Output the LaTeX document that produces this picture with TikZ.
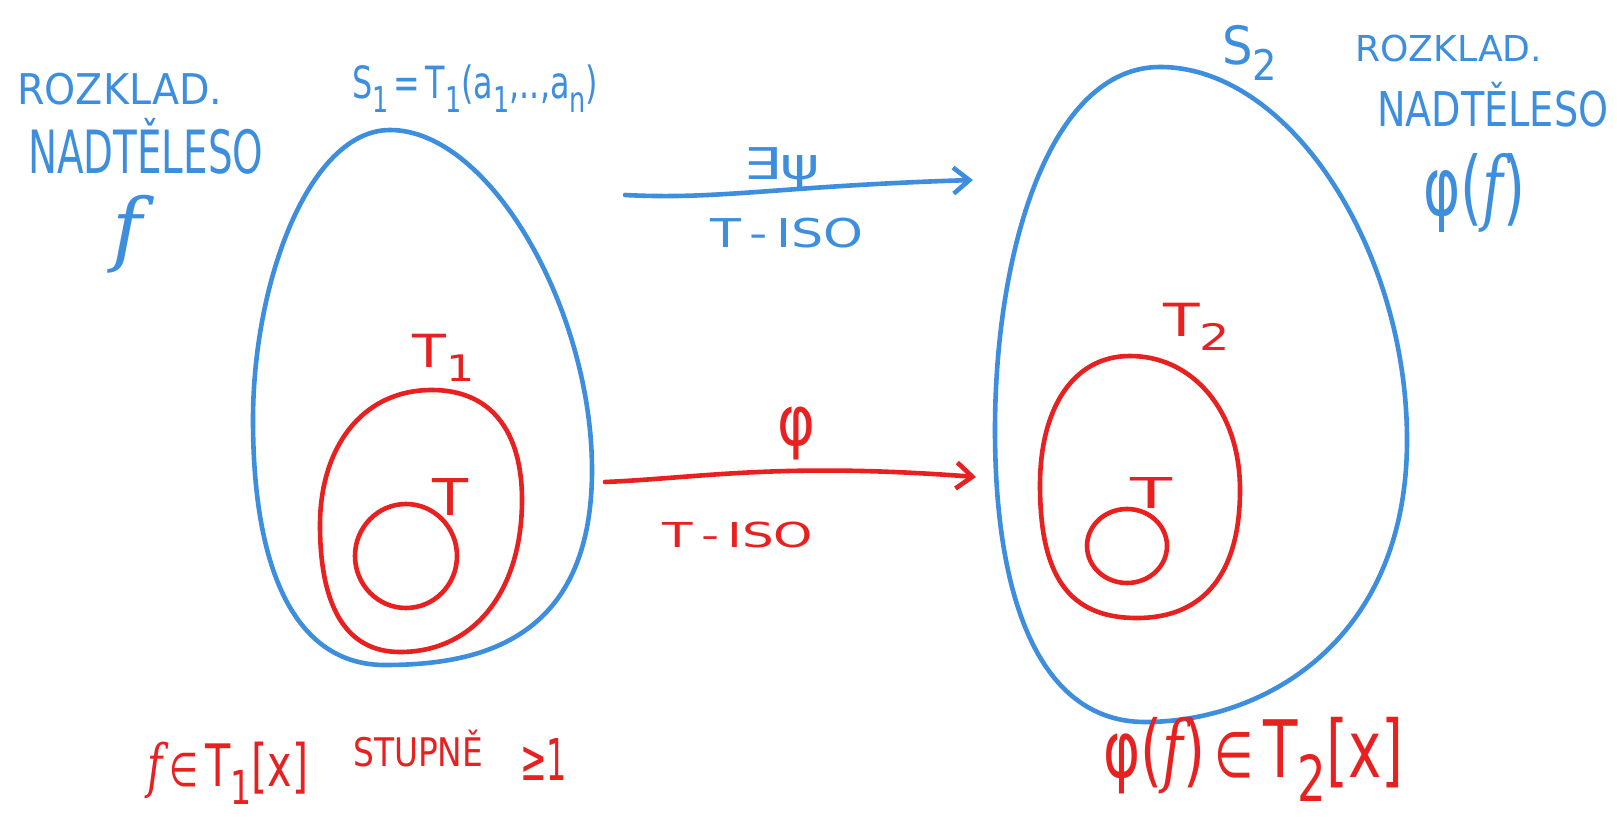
\documentclass[tikz,border=0pt]{standalone}
\usepackage{fontspec}
\usepackage{graphicx}
\setmainfont{DejaVu Sans}
\newfontfamily\fitfont{DejaVu Serif}
\usetikzlibrary{arrows.meta}
\definecolor{hblue}{RGB}{62,142,222}
\definecolor{hred}{RGB}{232,32,32}
\newcommand{\fitbox}[3]{\resizebox*{#1pt}{#2pt}{#3}}
\newcommand{\sub}[1]{\raisebox{-0.3em}{\footnotesize #1}}
\newcommand{\ff}{{\fitfont\itshape f}}
\newcommand{\smin}{{\footnotesize ∈}}
\begin{document}
\begin{tikzpicture}[x=1pt,y=-1pt,
  bstroke/.style={draw=hblue,line width=4.6pt,line cap=round,line join=round},
  rstroke/.style={draw=hred,line width=4.6pt,line cap=round,line join=round},
  btxt/.style={text=hblue,inner sep=0pt,anchor=north west},
  rtxt/.style={text=hred,inner sep=0pt,anchor=north west},
  harrow/.style={-{Straight Barb[length=16pt,width=26pt,line width=4.6pt]}}]
\useasboundingbox[fill=white] (0,0) rectangle (1617,818);
% left egg S1
\draw[bstroke] (390,130) .. controls (310,130) and (253,280) .. (253,420)
  .. controls (253,570) and (295,665) .. (385,665)
  .. controls (480,665) and (592,640) .. (592,470)
  .. controls (592,310) and (490,130) .. cycle;
% left T1
\draw[rstroke] (432,390) .. controls (360,390) and (320,450) .. (320,525)
  .. controls (320,605) and (345,652) .. (400,652)
  .. controls (475,652) and (522,590) .. (522,500)
  .. controls (522,430) and (490,390) .. cycle;
\draw[rstroke] (406,556) ellipse[x radius=51,y radius=52];
% right egg S2
\draw[bstroke] (1160,67) .. controls (1050,67) and (995,250) .. (995,430)
  .. controls (995,610) and (1045,722) .. (1145,722)
  .. controls (1265,722) and (1407,640) .. (1407,440)
  .. controls (1407,250) and (1290,67) .. cycle;
% right T2
\draw[rstroke] (1130,356) .. controls (1072,356) and (1040,410) .. (1040,485)
  .. controls (1040,575) and (1068,618) .. (1137,618)
  .. controls (1205,618) and (1240,572) .. (1240,490)
  .. controls (1240,410) and (1192,356) .. cycle;
\draw[rstroke] (1127,546) ellipse[x radius=40,y radius=37];
% arrows
\coordinate (pA) at (625,195);
\coordinate (pB) at (973,180);
\coordinate (qA) at (605,482);
\coordinate (qB) at (976,477);
\draw[bstroke,harrow] (pA) .. controls (720,200) and (780,186) .. (pB);
\draw[rstroke,harrow] (qA) .. controls (700,478) and (780,462) .. (qB);
% labels
\node[btxt] (exps) at (743,147) {\fitbox{77}{41}{∃ψ}};
\node[btxt] (iso1) at (710,218) {\fitbox{153}{30}{T\,-\,ISO}};
\node[rtxt] (phi) at (777,407) {\fitbox{38}{53}{φ}};
\node[rtxt] (iso2) at (662,522) {\fitbox{151}{26}{T\,-\,ISO}};
\node[btxt] (rozl) at (17,73) {\fitbox{205}{32}{ROZKLAD.}};
\node[btxt] (nadl) at (28,118) {\fitbox{235}{56}{NADTĚLESO}};
\node[btxt] (fl) at (112,195) {\fitbox{30}{78}{\ff}};
\node[btxt] (s1) at (352,65) {\fitbox{246}{47}{S\sub{1}\,=\,T\sub{1}(a\sub{1},..,a\sub{n})}};
\node[btxt] (s2) at (1222,25) {\fitbox{55}{55}{S\sub{2}}};
\node[btxt] (rozr) at (1355,35) {\fitbox{187}{27}{ROZKLAD.}};
\node[btxt] (nadr) at (1377,82) {\fitbox{231}{45}{NADTĚLESO}};
\node[btxt] (phf) at (1423,153) {\fitbox{102}{79}{φ(\ff)}};
\node[rtxt] (t1) at (412,334) {\fitbox{62}{47}{T\sub{1}}};
\node[rtxt] (tl) at (432,478) {\fitbox{36}{37}{T}};
\node[rtxt] (t2) at (1163,303) {\fitbox{67}{47}{T\sub{2}}};
\node[rtxt] (tr) at (1130,477) {\fitbox{42}{31}{T}};
\node[rtxt] (botl) at (147,742) {\fitbox{161}{62}{\ff\,\smin\,T\sub{1}[x]}};
\node[rtxt] (stup) at (353,730) {\fitbox{130}{37}{STUPNĚ}};
\node[rtxt] (geq) at (520,738) {\fitbox{47}{42}{≥1}};
\node[rtxt] (botr) at (1103,717) {\fitbox{300}{84}{φ(\ff)\,\smin\,T\sub{2}[x]}};
\end{tikzpicture}
\end{document}
